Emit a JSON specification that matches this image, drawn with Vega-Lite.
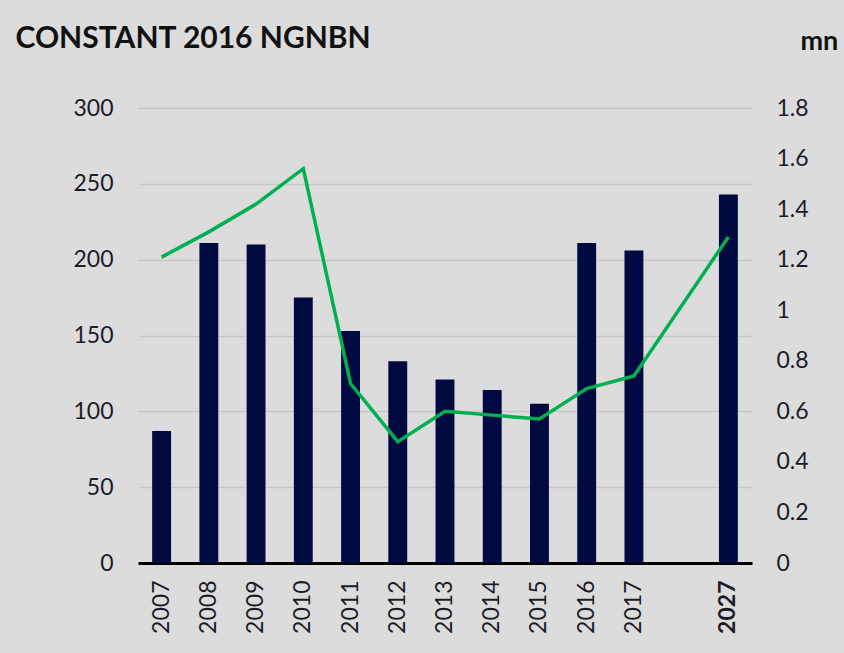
{
  "$schema": "https://vega.github.io/schema/vega-lite/v6.json",
  "width": 614,
  "height": 455,
  "autosize": {"type": "none"},
  "padding": {"left": 138, "top": 108, "right": 92, "bottom": 90},
  "background": "#dcdcdc",
  "config": {"view": {"stroke": null}, "font": "Lato"},
  "data": {
    "values": [
      {"year": "2007", "bn": 87, "mn": 1.21},
      {"year": "2008", "bn": 211, "mn": 1.31},
      {"year": "2009", "bn": 210, "mn": 1.42},
      {"year": "2010", "bn": 175, "mn": 1.56},
      {"year": "2011", "bn": 153, "mn": 0.71},
      {"year": "2012", "bn": 133, "mn": 0.48},
      {"year": "2013", "bn": 121, "mn": 0.6},
      {"year": "2014", "bn": 114, "mn": 0.585},
      {"year": "2015", "bn": 105, "mn": 0.57},
      {"year": "2016", "bn": 211, "mn": 0.69},
      {"year": "2017", "bn": 206, "mn": 0.74},
      {"year": "2027", "bn": 243, "mn": 1.29}
    ]
  },
  "encoding": {
    "x": {
      "field": "year",
      "type": "ordinal",
      "scale": {
        "domain": ["2007", "2008", "2009", "2010", "2011", "2012", "2013", "2014", "2015", "2016", "2017", "gap", "2027"],
        "paddingInner": 0.6,
        "paddingOuter": 0.3
      },
      "axis": {
        "title": null,
        "labelAngle": -90,
        "labelFontSize": 23,
        "labelColor": "#1c1c28",
        "labelPadding": 17,
        "labelExpr": "datum.value == 'gap' ? '' : datum.value",
        "labelFontWeight": {"condition": {"test": "datum.value == '2027'", "value": "bold"}, "value": "normal"},
        "ticks": false,
        "domainColor": "#000000",
        "domainWidth": 3
      }
    }
  },
  "layer": [
    {
      "mark": {"type": "bar", "color": "#000a40"},
      "encoding": {
        "y": {
          "field": "bn",
          "type": "quantitative",
          "scale": {"domain": [0, 300]},
          "axis": {
            "orient": "left",
            "values": [0, 50, 100, 150, 200, 250, 300],
            "grid": true,
            "gridColor": "#c6c6c6",
            "gridWidth": 1.5,
            "domain": false,
            "ticks": false,
            "labelFontSize": 23,
            "labelColor": "#1c1c28",
            "labelPadding": 25,
            "title": "CONSTANT 2016 NGNBN",
            "titleAngle": 0,
            "titleAlign": "left",
            "titleBaseline": "alphabetic",
            "titleX": -123,
            "titleY": -61,
            "titleFontSize": 30,
            "titleFontWeight": "bold",
            "titleColor": "#111111"
          }
        }
      }
    },
    {
      "mark": {"type": "line", "color": "#00b050", "strokeWidth": 3.5},
      "encoding": {
        "y": {
          "field": "mn",
          "type": "quantitative",
          "scale": {"domain": [0, 1.8]},
          "axis": {
            "orient": "right",
            "values": [0, 0.2, 0.4, 0.6, 0.8, 1, 1.2, 1.4, 1.6, 1.8],
            "format": "~g",
            "grid": false,
            "domain": false,
            "ticks": false,
            "labelFontSize": 23,
            "labelColor": "#1c1c28",
            "labelPadding": 24,
            "title": "mn",
            "titleAngle": 0,
            "titleAlign": "left",
            "titleBaseline": "alphabetic",
            "titleX": 48,
            "titleY": -59,
            "titleFontSize": 27,
            "titleFontWeight": "bold",
            "titleColor": "#111111"
          }
        }
      }
    }
  ],
  "resolve": {"scale": {"y": "independent"}}
}
